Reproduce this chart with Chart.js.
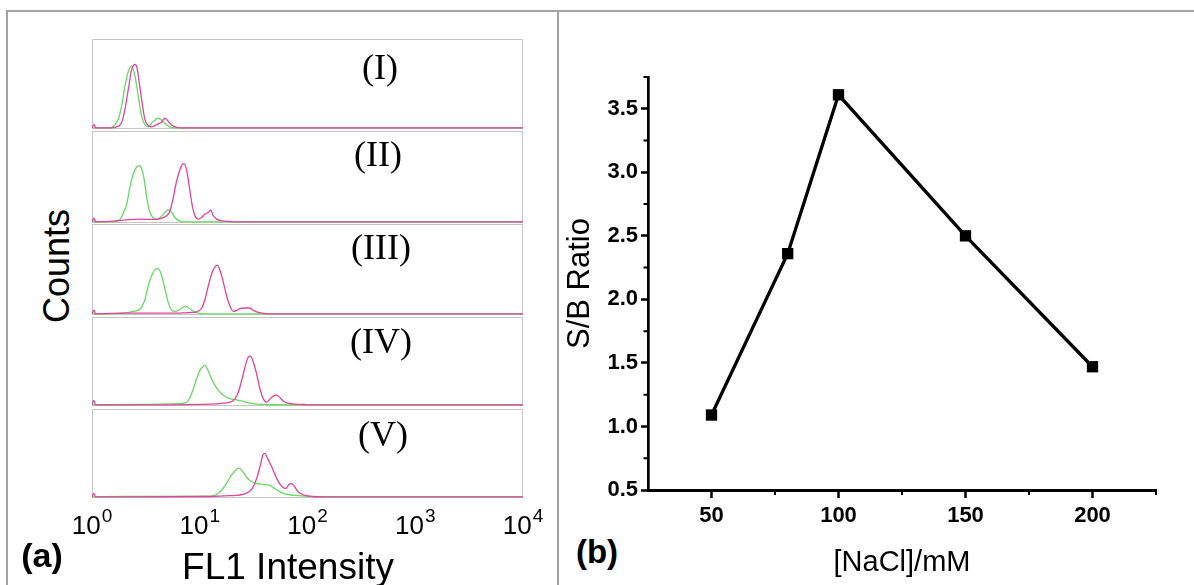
<!DOCTYPE html>
<html>
<head>
<meta charset="utf-8">
<script src="https://cdn.jsdelivr.net/npm/chart.js@4.4.1/dist/chart.umd.min.js"></script>
<style>
  body { margin:0; width:1194px; height:585px; overflow:hidden; position:relative; background:#fff;
         font-family:"Liberation Sans", Arial, sans-serif; }
  .frame { position:absolute; left:6px; top:10px; width:1250px; height:650px; border:2px solid #a3a3a3; box-sizing:border-box; }
  .divider { position:absolute; left:557px; top:10px; width:2px; height:600px; background:#a3a3a3; }
  canvas { position:absolute; display:block; }
  .lbl { position:absolute; white-space:nowrap; transform:translate(-50%,-50%); color:#000; line-height:1; }
  .roman { font-family:"Liberation Serif", "Times New Roman", serif; font-size:36px; }
</style>
</head>
<body>
<div class="frame"></div>
<div class="divider"></div>

<!-- (a) stacked histograms -->
<canvas id="pI"   width="431" height="90"  style="left:92px;top:39px"></canvas>
<canvas id="pII"  width="431" height="92"  style="left:92px;top:131px"></canvas>
<canvas id="pIII" width="431" height="91"  style="left:92px;top:224px"></canvas>
<canvas id="pIV"  width="431" height="89"  style="left:92px;top:317px"></canvas>
<canvas id="pV"   width="520" height="176" style="left:40px;top:409px"></canvas>

<div class="lbl roman" style="left:380px;top:67px">(I)</div>
<div class="lbl roman" style="left:378px;top:154px">(II)</div>
<div class="lbl roman" style="left:381px;top:247px">(III)</div>
<div class="lbl roman" style="left:381px;top:341px">(IV)</div>
<div class="lbl roman" style="left:383px;top:434px">(V)</div>

<div class="lbl" style="left:57px;top:266px;font-size:36px;transform:translate(-50%,-50%) rotate(-90deg)">Counts</div>
<div class="lbl" style="left:288px;top:566px;font-size:37px">FL1 Intensity</div>
<div class="lbl" style="left:42px;top:555px;font-size:34px;font-weight:bold">(a)</div>
<div class="lbl" style="left:597px;top:551px;font-size:33px;font-weight:bold">(b)</div>

<!-- (b) S/B ratio -->
<canvas id="sb" width="634" height="585" style="left:560px;top:0"></canvas>

<script>
// ---------- panel (a): FL1 intensity vs counts (counts as % of panel height) ----------
const fl1Ticks = [1, 10, 100, 1000, 10000];
const fl1TickExp = ['0', '1', '2', '3', '4'];

const I_greenX = [1, 1.5, 1.58, 1.75, 1.88, 2.02, 2.17, 2.33, 2.51, 2.69, 2.89, 3.10, 3.33, 3.58, 3.84, 4.13, 4.43, 4.76, 5.29, 5.89, 10000];
const I_greenY = [0, 0, 1.9, 9.3, 24.3, 46.6, 63.4, 69.8, 57.8, 35.4, 13, 3.7, 1.1, 5.6, 8.6, 10.8, 8.6, 4.9, 1.1, 0, 0];
const I_pinkX  = [1, 1.04, 1.08, 1.5, 1.75, 1.88, 2.02, 2.17, 2.33, 2.51, 2.6, 2.75, 2.95, 3.10, 3.33, 3.58, 3.84, 4.13, 4.43, 4.76, 5.0, 5.4, 5.89, 6.56, 10000];
const I_pinkY  = [0, 4, 0, 0, 1.9, 5.6, 20.5, 42.9, 65.3, 71.3, 69, 50.4, 24.3, 9.3, 2.6, 1.1, 2.6, 4.5, 6.7, 10.8, 8.6, 3.7, 1.1, 0, 0];

const II_greenX = [1, 1.5, 1.76, 1.95, 2.10, 2.25, 2.42, 2.60, 2.75, 2.89, 3.06, 3.22, 3.41, 3.66, 3.93, 4.28, 4.66, 5.11, 5.49, 5.89, 6.46, 7.30, 10000];
const II_greenY = [0, 0, 1.1, 9.3, 19.6, 38.1, 53, 60.4, 61.9, 58.5, 45.6, 27, 12.2, 4.8, 3, 4.8, 9.3, 13.3, 10.4, 4.8, 1.1, 0, 0];
const II_pinkX  = [1, 1.04, 1.08, 1.47, 1.95, 2.79, 3.98, 4.43, 4.93, 5.30, 5.69, 6.02, 6.37, 6.80, 7.14, 7.56, 8.01, 8.47, 9.03, 9.70, 10.42, 11.18, 12.02, 12.63, 13.37, 14.36, 15.97, 19.09, 22.0, 10000];
const II_pinkY  = [0, 4, 0, 0.4, 1.9, 3, 2.6, 4.1, 6.7, 12.2, 27, 41.9, 53, 62.2, 64.1, 56.7, 38.1, 19.6, 6.7, 3, 4.8, 8.5, 10.4, 13, 6.7, 3, 1.1, 0.4, 0, 0];

const III_greenX = [1, 1.95, 2.42, 2.79, 3.10, 3.33, 3.58, 3.84, 4.13, 4.43, 4.76, 5.11, 5.49, 5.89, 6.46, 7.04, 7.56, 8.12, 8.84, 9.70, 10.80, 10000];
const III_greenY = [0, 0.8, 2.7, 5.3, 16, 31.3, 42.7, 49.2, 50.4, 42.7, 27.5, 12.2, 3.8, 2.7, 4.6, 7.6, 8.4, 5.3, 2.7, 0.8, 0, 0];
const III_pinkX  = [1, 1.04, 1.08, 2, 5.69, 8.12, 9.36, 10.42, 11.18, 12.02, 12.90, 13.85, 14.56, 15.41, 16.55, 17.77, 19.09, 20.5, 22.0, 23.6, 26.3, 28.8, 31.4, 35.0, 38.9, 43.3, 10000];
const III_pinkY  = [0, 4, 0, 0.8, 0.8, 1.5, 2.3, 6.5, 16, 31.3, 44.7, 52.3, 54.2, 48.5, 35.1, 19.8, 8.4, 2.7, 3.8, 5.7, 6.5, 6.5, 3.8, 1.5, 0.4, 0, 0];

const IV_greenX = [1, 2.5, 6.56, 7.56, 8.12, 8.72, 9.36, 10.05, 10.80, 11.18, 11.76, 12.63, 13.85, 15.41, 17.15, 19.09, 22.0, 25.4, 29.3, 33.7, 41.8, 100, 10000];
const IV_greenY = [0, 0.4, 1.5, 3, 8.7, 18.3, 29.7, 39.2, 44.1, 44.9, 41.1, 31.6, 22.1, 14.4, 9.5, 7.2, 5.7, 3.8, 1.9, 0.8, 0.4, 0, 0];
const IV_pinkX  = [1, 1.04, 1.08, 3, 14.36, 16.55, 19.09, 21.2, 22.8, 24.5, 26.3, 28.2, 29.7, 31.4, 33.7, 36.2, 38.9, 41.8, 44.9, 48.2, 51.7, 55.6, 59.7, 66.4, 76.6, 91.5, 105.5, 10000];
const IV_pinkY  = [0, 5, 0, 0, 1.1, 1.9, 3, 6.8, 14.4, 27.8, 43, 54.4, 55.5, 48.7, 35.4, 18.3, 6.8, 3, 6.8, 9.9, 11, 8, 4.2, 1.9, 0.8, 0.4, 0, 0];

const V_greenX = [1, 2.08, 12.5, 13.6, 15.4, 17.4, 19.6, 21.3, 23.1, 25.1, 27.2, 29.6, 32.1, 36.3, 41.0, 44.5, 48.3, 54.6, 61.7, 69.7, 82.2, 96.6, 134, 10000];
const V_greenY = [0, 0.4, 0.8, 1.3, 5.5, 13.9, 24.4, 29.8, 32.8, 28.6, 22.3, 18.1, 16, 14.7, 13.9, 13, 10.5, 6.3, 3.4, 2.1, 1.3, 0.8, 0, 0];
const V_pinkX  = [1, 1.04, 1.08, 2.08, 12.5, 18.8, 26.1, 30.8, 34.0, 36.3, 38.7, 40.0, 42.0, 44.5, 47.1, 50.3, 54.6, 59.3, 63.2, 66.9, 70.9, 75.7, 82.2, 92.9, 114, 145, 10000];
const V_pinkY  = [0, 4, 0, 0, 0.4, 1.3, 3.4, 9.7, 22.3, 34.9, 48.3, 49.6, 45.4, 39.1, 32.8, 24.4, 16, 10.5, 9.7, 13.9, 15.1, 11.8, 5.5, 2.1, 0.4, 0, 0];

// ---------- panel (b): S/B ratio vs NaCl ----------
const nacl     = [50, 80, 100, 150, 200];
const sbRatio  = [1.09, 2.36, 3.61, 2.50, 1.47];
const naclTicks = [50, 100, 150, 200];
const naclMinor = [75, 125, 175, 225];
const sbTicks   = [0.5, 1.0, 1.5, 2.0, 2.5, 3.0, 3.5];
const sbMinor   = [0.75, 1.25, 1.75, 2.25, 2.75, 3.25, 3.75];

const SANS = '"Liberation Sans", Arial, sans-serif';
Chart.defaults.font.family = SANS;
Chart.defaults.color = '#000';
Chart.defaults.animation = false;

const GREEN = '#6ad866';
const PINK  = '#e0449c';
const pts = (xs, ys) => xs.map((x, i) => ({ x, y: ys[i] }));

// light grey frame round each histogram
const panelBox = {
  id: 'panelBox',
  beforeDatasetsDraw(chart) {
    const { ctx, chartArea: a } = chart;
    ctx.save();
    ctx.strokeStyle = '#c6c6c6';
    ctx.lineWidth = 1;
    ctx.strokeRect(a.left + 0.5, a.top + 0.5, a.right - a.left - 1, a.bottom - a.top - 1);
    ctx.restore();
  }
};

// 10^n labels under the bottom histogram
const fl1Labels = {
  id: 'fl1Labels',
  afterDraw(chart) {
    const { ctx } = chart;
    const sc = chart.scales.x;
    const yMid = chart.chartArea.bottom + 29;
    ctx.save();
    ctx.fillStyle = '#000';
    ctx.textBaseline = 'middle';
    ctx.textAlign = 'left';
    fl1Ticks.forEach((v, i) => {
      const px = sc.getPixelForValue(v);
      ctx.font = '26px ' + SANS;
      const w1 = ctx.measureText('10').width;
      ctx.font = '19px ' + SANS;
      const w2 = ctx.measureText(fl1TickExp[i]).width;
      const x0 = px - (w1 + w2 + 1) / 2;
      ctx.font = '26px ' + SANS;
      ctx.fillText('10', x0, yMid);
      ctx.font = '19px ' + SANS;
      ctx.fillText(fl1TickExp[i], x0 + w1 + 1, yMid - 10);
    });
    ctx.restore();
  }
};

function makePanel(id, gx, gy, px, py, withAxis) {
  const xScale = {
    type: 'logarithmic', min: 1, max: 10000, display: withAxis,
    grid: { display: false }, border: { display: false }, ticks: { display: false },
    afterBuildTicks: s => { s.ticks = fl1Ticks.map(v => ({ value: v })); }
  };
  if (withAxis) xScale.afterFit = s => { s.height = 87; };
  return new Chart(document.getElementById(id), {
    type: 'line',
    data: {
      datasets: [
        { data: pts(px, py), borderColor: PINK,  borderWidth: 1.3, pointRadius: 0, cubicInterpolationMode: 'monotone' },
        { data: pts(gx, gy), borderColor: GREEN, borderWidth: 1.3, pointRadius: 0, cubicInterpolationMode: 'monotone' }
      ]
    },
    options: {
      responsive: false,
      layout: { padding: withAxis ? { left: 52, right: 37, top: 0, bottom: 0 } : 0 },
      plugins: { legend: { display: false }, tooltip: { enabled: false } },
      scales: {
        x: xScale,
        y: { min: -1.3, max: 100, display: false }
      }
    },
    plugins: withAxis ? [panelBox, fl1Labels] : [panelBox]
  });
}

makePanel('pI',   I_greenX,   I_greenY,   I_pinkX,   I_pinkY,   false);
makePanel('pII',  II_greenX,  II_greenY,  II_pinkX,  II_pinkY,  false);
makePanel('pIII', III_greenX, III_greenY, III_pinkX, III_pinkY, false);
makePanel('pIV',  IV_greenX,  IV_greenY,  IV_pinkX,  IV_pinkY,  false);
makePanel('pV',   V_greenX,   V_greenY,   V_pinkX,   V_pinkY,   true);

// short minor ticks on both axes of (b)
const minorTicks = {
  id: 'minorTicks',
  afterDraw(chart) {
    const { ctx, chartArea: a } = chart;
    const { x, y } = chart.scales;
    ctx.save();
    ctx.strokeStyle = '#000';
    ctx.lineWidth = 2;
    ctx.beginPath();
    naclMinor.forEach(v => { const p = x.getPixelForValue(v); ctx.moveTo(p, a.bottom); ctx.lineTo(p, a.bottom + 5); });
    sbMinor.forEach(v => { const p = y.getPixelForValue(v); ctx.moveTo(a.left, p); ctx.lineTo(a.left - 4.5, p); });
    ctx.stroke();
    ctx.restore();
  }
};

new Chart(document.getElementById('sb'), {
  type: 'line',
  data: {
    datasets: [{
      data: pts(nacl, sbRatio),
      borderColor: '#000', borderWidth: 3.3,
      pointStyle: 'rect', pointRadius: 8, pointBackgroundColor: '#000', pointBorderColor: '#000', pointBorderWidth: 0,
      tension: 0
    }]
  },
  options: {
    responsive: false,
    layout: { padding: { top: 77, right: 38, bottom: 0, left: 0 } },
    plugins: { legend: { display: false }, tooltip: { enabled: false } },
    scales: {
      x: {
        type: 'linear', min: 25, max: 225,
        afterBuildTicks: s => { s.ticks = naclTicks.map(v => ({ value: v })); },
        afterFit: s => { s.height = 95; },
        grid: { drawOnChartArea: false, tickLength: 8, tickWidth: 2.5, tickColor: '#000' },
        border: { display: true, color: '#000', width: 3 },
        ticks: { font: { size: 22, weight: 'bold' }, color: '#000', padding: 5, maxRotation: 0, callback: v => String(v) },
        title: { display: true, text: '[NaCl]/mM', font: { size: 29 }, color: '#000', padding: { top: 0, bottom: 5 } }
      },
      y: {
        min: 0.5, max: 3.75,
        afterBuildTicks: s => { s.ticks = sbTicks.map(v => ({ value: v })); },
        afterFit: s => { s.width = 88; },
        grid: { drawOnChartArea: false, tickLength: 7, tickWidth: 2.5, tickColor: '#000' },
        border: { display: true, color: '#000', width: 2.7 },
        ticks: { font: { size: 22, weight: 'bold' }, color: '#000', padding: 3, callback: v => v.toFixed(1) },
        title: { display: true, text: 'S/B Ratio', font: { size: 31 }, color: '#000', padding: { top: 2, bottom: 0 } }
      }
    }
  },
  plugins: [minorTicks]
});
</script>
</body>
</html>
